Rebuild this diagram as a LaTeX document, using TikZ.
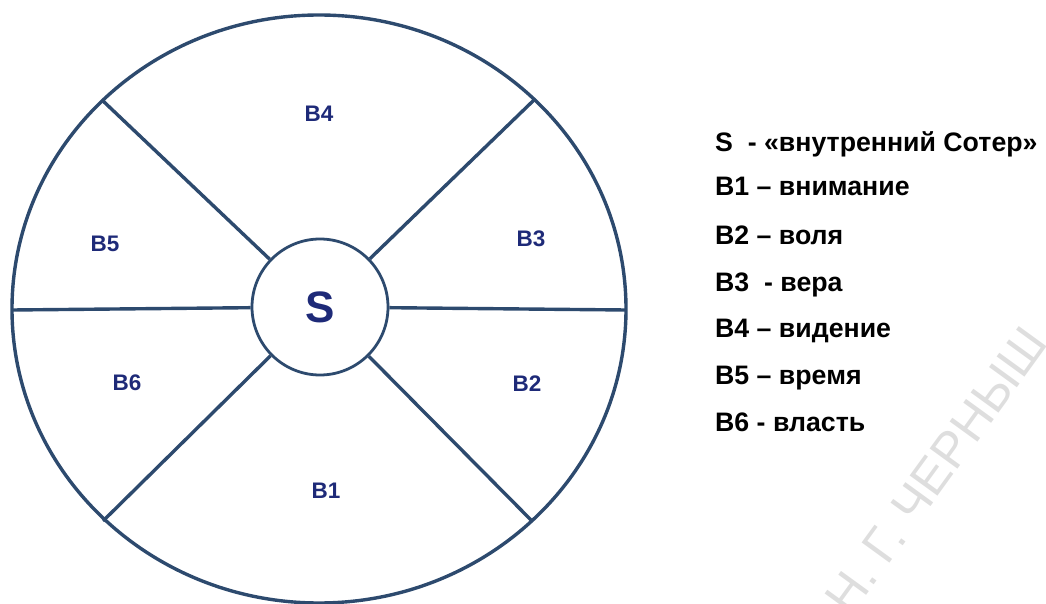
\documentclass[tikz,border=0pt]{standalone}
\usepackage{fontspec}
\setmainfont{Liberation Sans}
\definecolor{wheelline}{HTML}{2D4A6E}
\definecolor{wheeltext}{HTML}{1E2A78}
\begin{document}
\begin{tikzpicture}[x=1pt,y=-1pt]
    \tikzstyle{every node}=[inner sep=0pt];
    \tikzstyle{part}=[text=wheeltext,font=\bfseries\fontsize{22.5}{26}\selectfont];
    \tikzstyle{legend}=[anchor=base west,font=\bfseries\fontsize{26.7}{30}\selectfont];
    \tikzstyle{spoke}=[draw=wheelline,line width=3.4pt];
    \useasboundingbox (0,0) rectangle (1046,604);

    \node[rotate=54,anchor=base west,text=black!13,font=\fontsize{50}{56}\selectfont] (mark) at (850,618) {Н. Г. ЧЕРНЫШ};

    \draw[spoke] (319,309) ellipse [x radius=307pt,y radius=294pt];
    \coordinate (o1) at (534,100);
    \coordinate (o2) at (102,100);
    \coordinate (o3) at (103,521);
    \coordinate (o4) at (532,521);
    \coordinate (o5) at (12,310);
    \coordinate (o6) at (626,310);

    \node at (320,307) (S) [draw=wheelline,line width=2.8pt,circle,minimum size=136pt,text=wheeltext,font=\bfseries\fontsize{44}{50}\selectfont] {S};

    \draw[spoke] (S) to (o1);
    \draw[spoke] (S) to (o2);
    \draw[spoke] (S) to (o3);
    \draw[spoke] (S) to (o4);
    \draw[spoke] (S) to (o5);
    \draw[spoke] (S) to (o6);

    \node at (319,114) (b4) [part] {В4};
    \node at (105,244) (b5) [part] {В5};
    \node at (531,239) (b3) [part] {В3};
    \node at (127,383) (b6) [part] {В6};
    \node at (527,384) (b2) [part] {В2};
    \node at (326,491) (b1) [part] {В1};

    \node at (715,152) (l0) [legend] {S~~- «внутренний Сотер»};
    \node at (715,196) (l1) [legend] {В1 – внимание};
    \node at (715,244) (l2) [legend] {В2 – воля};
    \node at (715,291) (l3) [legend] {В3~~- вера};
    \node at (715,337) (l4) [legend] {В4 – видение};
    \node at (715,384) (l5) [legend] {В5 – время};
    \node at (715,431) (l6) [legend] {В6 - власть};
\end{tikzpicture}
\end{document}
